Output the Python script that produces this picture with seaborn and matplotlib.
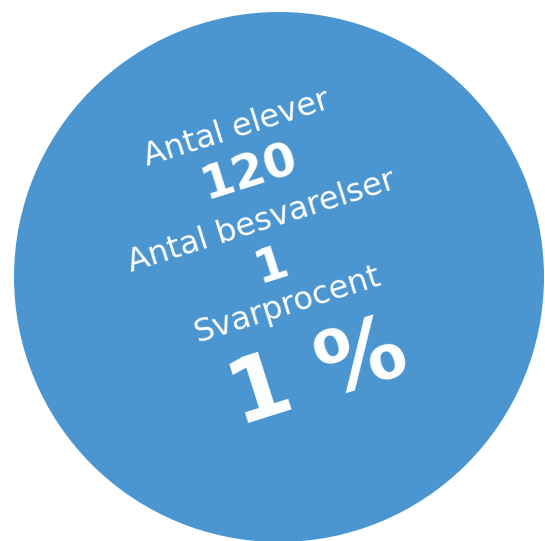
import matplotlib.pyplot as plt
from matplotlib.patches import Circle
import seaborn as sns

sns.set_style('white')
plt.rcParams['font.family'] = ['DejaVu Sans']

# Values shown in the badge
labels = ['Antal elever', 'Antal besvarelser', 'Svarprocent']
values = ['120', '1', '1 %']

# Text anchor points (pixel coords) and sizes
label_pos = [(237, 129), (262, 222), (288, 305)]
value_pos = [(250, 173), (272, 266), (318, 375)]
value_sizes = [34, 34, 64]
circle_color = '#4b96d0'

fig = plt.figure(figsize=(5.45, 5.41), dpi=100)
ax = fig.add_axes([0, 0, 1, 1])
ax.set_xlim(0, 545)
ax.set_ylim(541, 0)
ax.set_aspect('equal')
ax.axis('off')

ax.add_patch(Circle((279, 277), 265, color=circle_color, lw=0))

for lab, (x, y) in zip(labels, label_pos):
    ax.text(x, y, lab, color='white', fontsize=23, rotation=17.5,
            rotation_mode='anchor', ha='center', va='center')
for val, (x, y), s in zip(values, value_pos, value_sizes):
    ax.text(x, y, val, color='white', fontsize=s, fontweight='bold', rotation=17.5,
            rotation_mode='anchor', ha='center', va='center')

fig.savefig('out.png', dpi=100)
